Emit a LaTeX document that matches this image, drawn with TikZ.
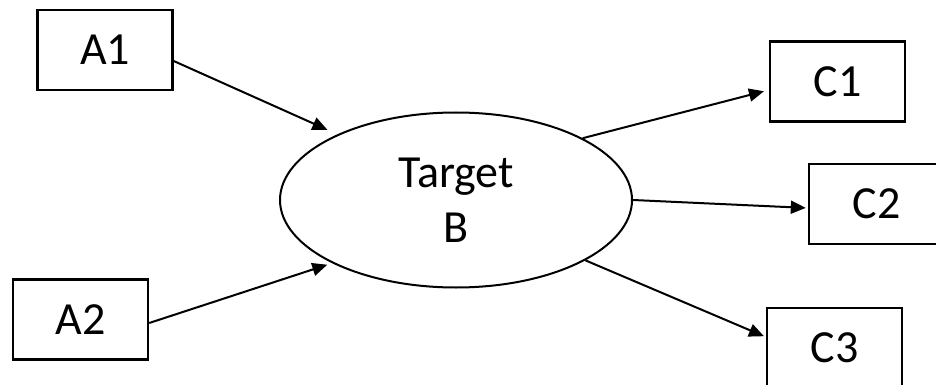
\documentclass[tikz,border=0pt]{standalone}
\usepackage{fontspec}
\setmainfont{Carlito}
\usetikzlibrary{shapes.geometric,arrows.meta}

\tikzset{
  box/.style={draw, line width=2.4pt, minimum width=135pt, minimum height=80pt,
              inner sep=0pt, font=\fontsize{46}{56}\selectfont},
  target/.style={draw, ellipse, line width=2pt, minimum width=352pt, minimum height=175pt,
                 inner sep=0pt, align=center, font=\fontsize{46}{55}\selectfont},
  arr/.style={line width=2pt, -{Triangle[length=15pt,width=13pt]}},
}

\begin{document}
\begin{tikzpicture}[x=1pt,y=-1pt]
  \useasboundingbox (0,0) rectangle (936,385);

  % sources, target and outputs
  \node[box] (A1) at (105,50) {A1};
  \node[box] (A2) at (80.5,319.5) {A2};
  \node[target] (B) at (456,200) {Target\\B};
  \node[box] (C1) at (837.5,81.5) {C1};
  \node[box] (C2) at (876.5,204) {C2};
  \node[box] (C3) at (834.5,348) {C3};

  % incoming arrows
  \draw[arr, shorten >=11pt] ([yshift=-11pt]A1.east) -- (B.151);
  \draw[arr, shorten >=5pt] ([yshift=-3.5pt]A2.east) -- (B.207);

  % outgoing arrows
  \draw[arr, shorten >=5pt] (B.26.6) -- ([yshift=-8.5pt]C1.west);
  \draw[arr, shorten >=2pt] (B.east) -- ([yshift=-4pt]C2.west);
  \draw[arr, shorten >=2pt] (B.335) -- ([yshift=11pt]C3.west);
\end{tikzpicture}
\end{document}
